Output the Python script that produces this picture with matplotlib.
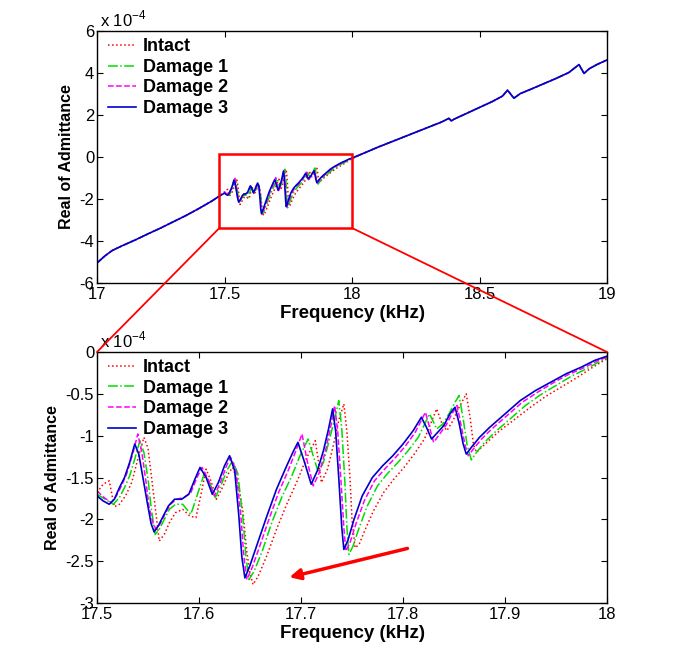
import matplotlib
matplotlib.use("Agg")
import matplotlib.pyplot as plt
from matplotlib.patches import Rectangle, ConnectionPatch

plt.rcParams['font.family'] = ['Liberation Sans', 'DejaVu Sans']
plt.rcParams['axes.unicode_minus'] = False

# admittance values are in units of 1e-4, frequency in kHz
# shared part of the sweep below the zoom window
freq_low = [17.00, 17.03, 17.06, 17.10, 17.15, 17.20, 17.25, 17.30, 17.35, 17.40,
            17.45, 17.48]
adm_low = [-5.05, -4.72, -4.45, -4.22, -3.95, -3.66, -3.38, -3.08, -2.78, -2.45,
           -2.10, -1.86]

# shared part of the sweep above the zoom window
freq_high = [18.05, 18.10, 18.15, 18.20, 18.25, 18.30, 18.35, 18.38, 18.39, 18.40,
             18.45, 18.50, 18.55, 18.59, 18.61, 18.635, 18.66, 18.70, 18.75, 18.80,
             18.85, 18.89, 18.91, 18.93, 18.96, 19.00]
adm_high = [0.20, 0.46, 0.70, 0.94, 1.18, 1.42, 1.66, 1.84, 1.72, 1.80,
            2.08, 2.36, 2.64, 2.90, 3.18, 2.80, 3.02, 3.22, 3.48, 3.74,
            4.02, 4.40, 3.98, 4.20, 4.40, 4.62]

# zoom window 17.5 - 18 kHz, one list per case
freq_intact = [17.500, 17.506, 17.512, 17.517, 17.522, 17.528, 17.534, 17.540, 17.546, 17.550,
               17.554, 17.558, 17.561, 17.566, 17.571, 17.577, 17.584, 17.591, 17.597, 17.602,
               17.607, 17.612, 17.617, 17.623, 17.629, 17.633, 17.638, 17.643, 17.647, 17.650,
               17.653, 17.658, 17.666, 17.676, 17.686, 17.696, 17.705, 17.714, 17.717, 17.720,
               17.726, 17.732, 17.737, 17.742, 17.745, 17.748, 17.750, 17.753, 17.757, 17.763,
               17.771, 17.781, 17.791, 17.801, 17.811, 17.821, 17.833, 17.838, 17.843, 17.849,
               17.855, 17.862, 17.866, 17.869, 17.872, 17.877, 17.885, 17.895, 17.910, 17.925,
               17.940, 17.955, 17.970, 17.985, 18.000]
adm_intact = [-1.68, -1.58, -1.54, -1.85, -1.82, -1.72, -1.56, -1.28, -1.02, -1.15,
              -1.55, -1.95, -2.26, -2.18, -2.04, -1.92, -1.88, -1.96, -1.98, -1.70,
              -1.40, -1.55, -1.76, -1.62, -1.45, -1.38, -1.55, -1.90, -2.40, -2.65,
              -2.78, -2.68, -2.45, -2.12, -1.82, -1.55, -1.28, -1.06, -1.30, -1.56,
              -1.40, -1.10, -0.82, -0.62, -0.95, -1.50, -2.00, -2.34, -2.30, -2.12,
              -1.90, -1.68, -1.52, -1.38, -1.22, -1.04, -0.68, -0.85, -0.94, -0.82,
              -0.66, -0.50, -0.80, -1.10, -1.20, -1.14, -1.05, -0.94, -0.80, -0.66,
              -0.53, -0.42, -0.31, -0.19, -0.08]

freq_dmg1 = [17.500, 17.508, 17.516, 17.522, 17.527, 17.532, 17.537, 17.542, 17.546, 17.550,
             17.553, 17.557, 17.561, 17.566, 17.571, 17.577, 17.584, 17.592, 17.598, 17.605,
             17.610, 17.616, 17.622, 17.628, 17.633, 17.638, 17.643, 17.646, 17.649, 17.654,
             17.662, 17.671, 17.681, 17.691, 17.699, 17.707, 17.712, 17.717, 17.722, 17.728,
             17.733, 17.737, 17.740, 17.743, 17.745, 17.747, 17.751, 17.757, 17.765, 17.775,
             17.785, 17.795, 17.805, 17.815, 17.826, 17.830, 17.833, 17.839, 17.845, 17.851,
             17.855, 17.859, 17.863, 17.867, 17.872, 17.880, 17.890, 17.905, 17.920, 17.935,
             17.950, 17.965, 17.980, 17.992, 18.000]
adm_dmg1 = [-1.70, -1.76, -1.82, -1.74, -1.62, -1.48, -1.28, -1.06, -1.20, -1.52,
            -1.85, -2.18, -2.12, -2.00, -1.88, -1.82, -1.82, -1.94, -1.72, -1.46,
            -1.55, -1.74, -1.58, -1.40, -1.30, -1.45, -1.98, -2.45, -2.72, -2.62,
            -2.38, -2.05, -1.74, -1.48, -1.24, -1.04, -1.24, -1.44, -1.32, -1.04,
            -0.80, -0.58, -0.92, -1.55, -2.10, -2.42, -2.32, -2.10, -1.84, -1.60,
            -1.45, -1.32, -1.18, -1.02, -0.74, -0.84, -0.92, -0.86, -0.74, -0.60,
            -0.52, -0.80, -1.12, -1.29, -1.20, -1.08, -0.96, -0.80, -0.64, -0.51,
            -0.40, -0.29, -0.20, -0.12, -0.07]

freq_dmg2 = [17.500, 17.507, 17.514, 17.519, 17.524, 17.529, 17.535, 17.540, 17.544, 17.548,
             17.551, 17.555, 17.558, 17.562, 17.567, 17.572, 17.578, 17.585, 17.592, 17.598,
             17.603, 17.609, 17.615, 17.621, 17.627, 17.631, 17.636, 17.641, 17.644, 17.647,
             17.652, 17.659, 17.668, 17.678, 17.688, 17.695, 17.701, 17.706, 17.712, 17.718,
             17.724, 17.729, 17.733, 17.736, 17.739, 17.742, 17.744, 17.748, 17.754, 17.762,
             17.772, 17.782, 17.792, 17.802, 17.812, 17.822, 17.826, 17.830, 17.836, 17.842,
             17.848, 17.853, 17.857, 17.861, 17.864, 17.869, 17.877, 17.887, 17.902, 17.917,
             17.932, 17.947, 17.962, 17.977, 17.990, 18.000]
adm_dmg2 = [-1.66, -1.74, -1.80, -1.72, -1.60, -1.46, -1.22, -0.98, -1.20, -1.55,
            -1.85, -2.05, -2.12, -2.05, -1.93, -1.82, -1.76, -1.74, -1.68, -1.50,
            -1.38, -1.52, -1.72, -1.56, -1.36, -1.26, -1.40, -1.95, -2.45, -2.72,
            -2.58, -2.34, -2.02, -1.68, -1.40, -1.18, -0.98, -1.30, -1.60, -1.44,
            -1.18, -0.90, -0.64, -0.95, -1.50, -2.10, -2.38, -2.28, -2.05, -1.78,
            -1.54, -1.40, -1.27, -1.13, -0.96, -0.72, -0.90, -1.08, -0.98, -0.88,
            -0.74, -0.64, -0.88, -1.12, -1.24, -1.16, -1.04, -0.92, -0.76, -0.60,
            -0.48, -0.37, -0.27, -0.19, -0.11, -0.06]

freq_dmg3 = [17.500, 17.506, 17.512, 17.517, 17.522, 17.527, 17.532, 17.537, 17.541, 17.545,
             17.549, 17.553, 17.556, 17.560, 17.565, 17.570, 17.576, 17.583, 17.590, 17.596,
             17.601, 17.607, 17.613, 17.619, 17.625, 17.630, 17.635, 17.639, 17.642, 17.645,
             17.650, 17.657, 17.666, 17.676, 17.686, 17.692, 17.697, 17.703, 17.710, 17.716,
             17.722, 17.727, 17.731, 17.734, 17.737, 17.740, 17.742, 17.746, 17.752, 17.760,
             17.770, 17.780, 17.790, 17.800, 17.810, 17.818, 17.823, 17.828, 17.834, 17.840,
             17.846, 17.851, 17.855, 17.859, 17.862, 17.867, 17.875, 17.885, 17.900, 17.915,
             17.930, 17.945, 17.960, 17.975, 17.988, 18.000]
adm_dmg3 = [-1.72, -1.78, -1.82, -1.76, -1.62, -1.50, -1.32, -1.10, -1.22, -1.50,
            -1.78, -2.05, -2.15, -2.08, -1.96, -1.84, -1.76, -1.76, -1.70, -1.52,
            -1.38, -1.50, -1.70, -1.56, -1.36, -1.24, -1.42, -1.95, -2.45, -2.70,
            -2.55, -2.30, -1.98, -1.64, -1.36, -1.20, -1.08, -1.30, -1.58, -1.42,
            -1.18, -0.92, -0.68, -0.95, -1.50, -2.10, -2.36, -2.25, -2.00, -1.72,
            -1.50, -1.36, -1.24, -1.10, -0.94, -0.78, -0.90, -1.04, -0.96, -0.88,
            -0.74, -0.66, -0.85, -1.10, -1.22, -1.14, -1.02, -0.90, -0.74, -0.58,
            -0.46, -0.36, -0.26, -0.18, -0.10, -0.05]

labels = ["Intact", "Damage 1", "Damage 2", "Damage 3"]
colors = ["red", "#00dd00", "magenta", "#0000cc"]
styles = [":", "-.", "--", "-"]
widths = [1.1, 1.1, 1.1, 1.2]

top_xticks = [17, 17.5, 18, 18.5, 19]
top_xlabels = ["17", "17.5", "18", "18.5", "19"]
top_yticks = [-6, -4, -2, 0, 2, 4, 6]
bot_xticks = [17.5, 17.6, 17.7, 17.8, 17.9, 18.0]
bot_xlabels = ["17.5", "17.6", "17.7", "17.8", "17.9", "18"]
bot_yticks = [-3, -2.5, -2, -1.5, -1, -0.5, 0]
bot_ylabels = ["-3", "-2.5", "-2", "-1.5", "-1", "-0.5", "0"]

detail = [(freq_intact, adm_intact), (freq_dmg1, adm_dmg1),
          (freq_dmg2, adm_dmg2), (freq_dmg3, adm_dmg3)]

W, H = 685, 654
fig = plt.figure(figsize=(W / 100, H / 100), dpi=100)
ax1 = fig.add_axes([97 / W, 1 - 283 / H, 510 / W, 252 / H])
ax2 = fig.add_axes([97 / W, 1 - 603 / H, 510 / W, 251 / H])

for (f, a), lab, c, ls, lw in zip(detail, labels, colors, styles, widths):
    ax1.plot(freq_low + f + freq_high, adm_low + a + adm_high,
             color=c, ls=ls, lw=lw, label=lab)
    ax2.plot(f, a, color=c, ls=ls, lw=lw, label=lab)

ax1.set_xlim(17, 19)
ax1.set_ylim(-6, 6)
ax1.set_xticks(top_xticks)
ax1.set_xticklabels(top_xlabels)
ax1.set_yticks(top_yticks)

ax2.set_xlim(17.5, 18)
ax2.set_ylim(-3, 0)
ax2.set_xticks(bot_xticks)
ax2.set_xticklabels(bot_xlabels)
ax2.set_yticks(bot_yticks)
ax2.set_yticklabels(bot_ylabels)

for ax in (ax1, ax2):
    ax.tick_params(direction="in", top=True, right=True, length=4, width=0.8,
                   labelsize=12)
    ax.tick_params(axis="x", pad=3)
    ax.tick_params(axis="y", pad=2)
    for s in ax.spines.values():
        s.set_linewidth(1.0)
    ax.set_xlabel("Frequency (kHz)", fontsize=13.5, fontweight="bold", labelpad=2)
    ax.set_ylabel("Real of Admittance", fontsize=11.5, fontweight="bold", labelpad=4)
    ax.text(0.005, 1.008, r"x 10$^{\mathregular{-4}}$", transform=ax.transAxes,
            fontsize=12, ha="left", va="bottom")
    ax.legend(loc="upper left", bbox_to_anchor=(0.0145, 0.9857), frameon=False,
              prop={"weight": "bold", "size": 13}, handlelength=1.55,
              handletextpad=0.4, labelspacing=0.2, borderaxespad=0.0,
              borderpad=0.2)

# zoom window on the full sweep and the lines to the detail plot
x0, x1, y0, y1 = 17.48, 18.0, -3.38, 0.16
ax1.add_patch(Rectangle((x0, y0), x1 - x0, y1 - y0, fill=False,
                        edgecolor="red", lw=1.8, zorder=5))
for xa, xb in ((x0, 17.5), (x1, 18.0)):
    con = ConnectionPatch(xyA=(xa, y0), coordsA=ax1.transData,
                          xyB=(xb, 0), coordsB=ax2.transData,
                          color="red", lw=1.3)
    fig.add_artist(con)

ax2.annotate("", xy=(17.686, -2.70), xytext=(17.807, -2.34),
             arrowprops=dict(arrowstyle="-|>", color="red", lw=2.5,
                             mutation_scale=16))

fig.savefig("out.png", dpi=100)
